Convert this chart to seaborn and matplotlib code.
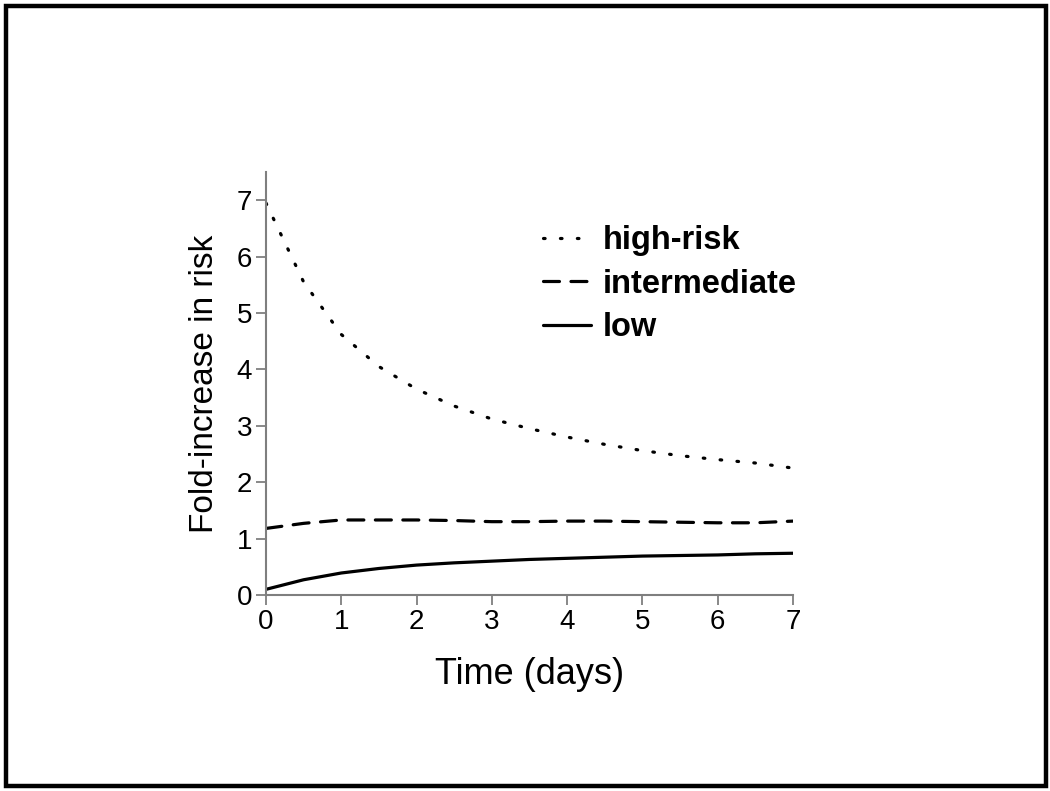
import seaborn as sns
import pandas as pd
import matplotlib.pyplot as plt
from matplotlib.patches import Rectangle

# values
days = [0, 0.5, 1, 1.5, 2, 2.5, 3, 3.5, 4, 4.5, 5, 5.5, 6, 6.5, 7]
high_risk = [6.95, 5.55, 4.62, 4.05, 3.65, 3.35, 3.12, 2.95, 2.80, 2.67, 2.56, 2.47, 2.40, 2.34, 2.25]
intermediate = [1.18, 1.27, 1.33, 1.33, 1.33, 1.32, 1.30, 1.30, 1.31, 1.31, 1.30, 1.29, 1.28, 1.28, 1.31]
low = [0.10, 0.27, 0.39, 0.47, 0.53, 0.57, 0.60, 0.63, 0.65, 0.67, 0.69, 0.70, 0.71, 0.73, 0.74]

series_names = ["high-risk", "intermediate", "low"]
x_ticks = [0, 1, 2, 3, 4, 5, 6, 7]
y_ticks = [0, 1, 2, 3, 4, 5, 6, 7]

sns.set_style("ticks")
plt.rcParams['font.family'] = ['Liberation Sans', 'DejaVu Sans']
plt.rcParams['text.color'] = 'black'
plt.rcParams['axes.labelcolor'] = 'black'

fig = plt.figure(figsize=(10.5, 7.91), dpi=100)
ax = fig.add_axes([0.2533, 0.2478, 0.5019, 0.5348])

df = pd.DataFrame({"days": days, "high-risk": high_risk,
                   "intermediate": intermediate, "low": low})
dash_styles = {"high-risk": (0.5, 4.8), "intermediate": (5.0, 3.6), "low": ""}
for name in series_names:
    sns.lineplot(data=df, x="days", y=name, ax=ax, color="black",
                 linewidth=2.3, label=name, dashes=dash_styles[name])
for line in ax.get_lines():
    line.set_dash_capstyle("round")

ax.set_xlim(0, 7)
ax.set_ylim(0, 7.5)
ax.set_xticks(x_ticks)
ax.set_yticks(y_ticks)
ax.tick_params(labelsize=20, colors="#7f7f7f", labelcolor="black",
               length=7, width=1.3, pad=3)
for side in ["left", "bottom"]:
    ax.spines[side].set_color("#7f7f7f")
    ax.spines[side].set_linewidth(1.5)
sns.despine(ax=ax)

ax.set_xlabel("Time (days)", fontsize=26, labelpad=16)
ax.set_ylabel("Fold-increase in risk", fontsize=24, labelpad=12)

leg = ax.legend(loc="upper left", bbox_to_anchor=(0.5, 0.905), frameon=False,
                prop={"size": 23.5, "weight": "bold"}, handlelength=1.5,
                handletextpad=0.35, labelspacing=0.38, borderaxespad=0)

# outer slide frame
fig.patches.append(Rectangle((6 / 1050, 5 / 791), 1040 / 1050, 780 / 791,
                             transform=fig.transFigure, fill=False,
                             edgecolor="black", linewidth=3.2))

fig.savefig("out.png", dpi=100)
